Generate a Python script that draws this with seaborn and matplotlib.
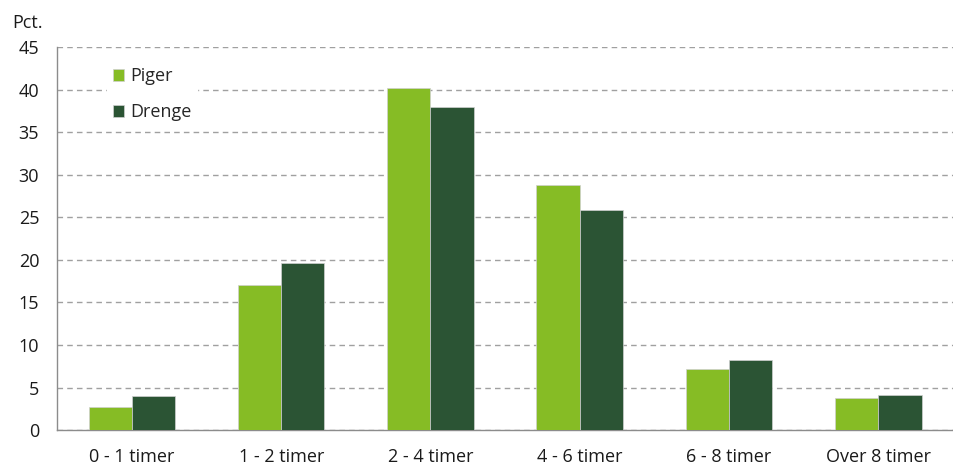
import matplotlib
matplotlib.use("Agg")
import matplotlib.pyplot as plt
import numpy as np
import pandas as pd
import seaborn as sns
from matplotlib.ticker import FixedLocator

categories = ["0 - 1 timer", "1 - 2 timer", "2 - 4 timer", "4 - 6 timer", "6 - 8 timer", "Over 8 timer"]
piger = [2.7, 17.0, 40.2, 28.8, 7.2, 3.8]
drenge = [4.0, 19.6, 38.0, 25.9, 8.2, 4.1]
series = ["Piger", "Drenge"]
colors = ["#86BC25", "#2B5434"]

df = pd.DataFrame({
    "kategori": categories * 2,
    "pct": piger + drenge,
    "køn": [series[0]] * len(categories) + [series[1]] * len(categories),
})

sns.set_style("white")
plt.rcParams["font.family"] = ["Open Sans", "DejaVu Sans"]

fig, ax = plt.subplots(figsize=(9.54, 4.66), dpi=100)
fig.subplots_adjust(left=0.06, right=0.999, top=0.899, bottom=0.077)

sns.barplot(data=df, x="kategori", y="pct", hue="køn", order=categories,
            hue_order=series, palette=colors, saturation=1, width=0.58, gap=0,
            edgecolor="#d0d0d0", linewidth=0.5, ax=ax, zorder=3)

ax.set_xlim(-0.5, len(categories) - 0.5)
ax.set_ylim(0, 45)
ax.set_yticks(np.arange(0, 46, 5))
ax.yaxis.grid(True, linestyle=(0, (4, 3)), color="#a0a0a0", linewidth=1, zorder=0)
ax.set_axisbelow(True)

ax.set_xlabel("")
ax.set_ylabel("")
ax.text(-0.05, 1.04, "Pct.", transform=ax.transAxes, fontsize=13, color="#1a1a1a",
        ha="left", va="bottom")

for s in ["top", "right"]:
    ax.spines[s].set_visible(False)
for s in ["left", "bottom"]:
    ax.spines[s].set_color("#8c8c8c")
    ax.spines[s].set_linewidth(1)

ax.tick_params(axis="y", length=7, width=1, color="#8c8c8c", labelsize=13,
               labelcolor="#1a1a1a", pad=6)
ax.tick_params(axis="x", which="major", length=0, labelsize=13, labelcolor="#1a1a1a", pad=13)
ax.xaxis.set_minor_locator(FixedLocator(np.arange(0.5, len(categories) - 1, 1.0)))
ax.tick_params(axis="x", which="minor", length=6, width=1, color="#8c8c8c")

leg = ax.legend(loc="upper left", bbox_to_anchor=(0.046, 0.985), frameon=True,
                fontsize=13, handlelength=0.62, handleheight=0.62, handletextpad=0.35,
                labelspacing=1.0, borderpad=0.3)
leg.get_frame().set_facecolor("white")
leg.get_frame().set_edgecolor("white")
leg.get_frame().set_alpha(1)

fig.savefig("out.png", dpi=100)
